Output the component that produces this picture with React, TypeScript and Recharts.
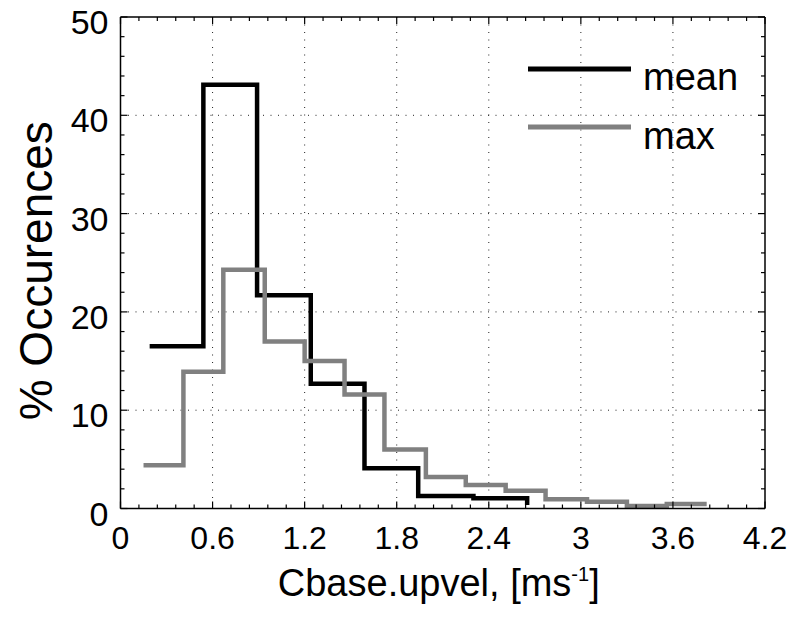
import React from "react";
import { LineChart, Line, XAxis, YAxis, CartesianGrid, Legend, Label } from "recharts";

// stairs: left edge of each bin and the % value in it
const meanEdges = [0.19, 0.54, 0.89, 1.24, 1.59, 1.94, 2.3, 2.65];
const meanPct = [16.5, 43.1, 21.7, 12.7, 4.1, 1.27, 1.04, 0.35];

const maxEdges = [0.15, 0.41, 0.67, 0.94, 1.2, 1.46, 1.72, 1.99, 2.25, 2.51, 2.77, 3.04, 3.3, 3.56, 3.82];
const maxPct = [4.4, 13.9, 24.3, 17.0, 15.0, 11.6, 6.0, 3.2, 2.4, 1.8, 0.94, 0.69, 0.25, 0.46, 0.46];

const seriesNames = ["mean", "max"];

const xTickLabels = ["0", "0.6", "1.2", "1.8", "2.4", "3", "3.6", "4.2"];
const yTickLabels = ["0", "10", "20", "30", "40", "50"];

const xMajor = xTickLabels.map(Number);
const yMajor = yTickLabels.map(Number);
const xMinor = Array.from({ length: 36 }, (_, i) => Math.round(i * 12) / 100);
const yMinor = Array.from({ length: 26 }, (_, i) => i * 2);

const meanData = meanEdges.map((x, i) => ({ x, y: meanPct[i] }));
const maxData = maxEdges.map((x, i) => ({ x, y: maxPct[i] }));

const FONT = '"Liberation Sans", Arial, Helvetica, sans-serif';

const majorIndex = (v: number, list: number[]) => list.findIndex((m) => Math.abs(m - v) < 1e-6);

// scale can be a d3 function or a wrapper with map(), depending on recharts version
const toPixel = (axis: any, v: number) => {
  const s = axis && axis.scale;
  if (typeof s === "function") return s(v);
  if (s && typeof s.map === "function") return s.map(v);
  return undefined;
};

const BottomTick = (props: any) => {
  const { x, y, payload } = props;
  const i = majorIndex(payload.value, xMajor);
  return (
    <g>
      <line x1={x} x2={x} y1={y} y2={y - (i >= 0 ? 7 : 4)} stroke="#000" strokeWidth={1.2} />
      {i >= 0 && (
        <text x={x} y={y + 29} textAnchor="middle" dominantBaseline="central" fontSize={32} fill="#000">
          {xTickLabels[i]}
        </text>
      )}
    </g>
  );
};

const TopTick = (props: any) => {
  const { x, y, payload } = props;
  const i = majorIndex(payload.value, xMajor);
  return <line x1={x} x2={x} y1={y} y2={y + (i >= 0 ? 7 : 4)} stroke="#000" strokeWidth={1.2} />;
};

const LeftTick = (props: any) => {
  const { x, y, payload } = props;
  const i = majorIndex(payload.value, yMajor);
  return (
    <g>
      <line x1={x} x2={x + (i >= 0 ? 7 : 4)} y1={y} y2={y} stroke="#000" strokeWidth={1.2} />
      {i >= 0 && (
        <text x={x - 12} y={y + 5} textAnchor="end" dominantBaseline="central" fontSize={34} fill="#000">
          {yTickLabels[i]}
        </text>
      )}
    </g>
  );
};

const RightTick = (props: any) => {
  const { x, y, payload } = props;
  const i = majorIndex(payload.value, yMajor);
  return <line x1={x} x2={x - (i >= 0 ? 7 : 4)} y1={y} y2={y} stroke="#000" strokeWidth={1.2} />;
};

const renderLegend = (props: any) => {
  const items = [...(props.payload || [])].sort(
    (a: any, b: any) => seriesNames.indexOf(a.value) - seriesNames.indexOf(b.value)
  );
  return (
    <svg width={260} height={115} style={{ fontFamily: FONT }}>
      {items.map((it: any, k: number) => (
        <g key={it.value}>
          <line x1={0} x2={103} y1={21 + k * 58} y2={21 + k * 58} stroke={it.color} strokeWidth={5} />
          <text x={115} y={42 + k * 59} fontSize={38} fill="#000">
            {it.value}
          </text>
        </g>
      ))}
    </svg>
  );
};

function StairsChart() {
  // negative margin cancels the default body margin so the svg fills the window
  return (
    <div style={{ width: 798, height: 631, margin: -8 }}>
      <LineChart
        width={798}
        height={631}
        margin={{ top: 16, right: 32, left: 0, bottom: 0 }}
        style={{ fontFamily: FONT, background: "#fff" }}
      >
        <CartesianGrid
          stroke="#222"
          strokeDasharray="1 6.5"
          verticalCoordinatesGenerator={({ xAxis }: any) =>
            xMajor
              .slice(1, -1)
              .map((v) => toPixel(xAxis, v))
              .filter((p) => p !== undefined)
          }
          horizontalCoordinatesGenerator={({ yAxis }: any) =>
            yMajor
              .slice(1, -1)
              .map((v) => toPixel(yAxis, v))
              .filter((p) => p !== undefined)
          }
        />
        <XAxis
          dataKey="x"
          type="number"
          domain={[0, 4.2]}
          ticks={xMinor}
          interval={0}
          height={122.5}
          tickSize={0}
          tickMargin={0}
          tickLine={false}
          axisLine={{ stroke: "#000", strokeWidth: 1.5 }}
          tick={BottomTick}
          allowDataOverflow
        >
          <Label
            content={(p: any) => {
              const { x, y, width } = p.viewBox;
              return (
                <text x={x + width / 2 - 4} y={y + 87} textAnchor="middle" fontSize={38} fill="#000">
                  Cbase.upvel, [ms
                  <tspan dy={-15} fontSize={20}>
                    -1
                  </tspan>
                  <tspan dy={15}>]</tspan>
                </text>
              );
            }}
          />
        </XAxis>
        <XAxis
          xAxisId="top"
          orientation="top"
          dataKey="x"
          type="number"
          domain={[0, 4.2]}
          ticks={xMinor}
          interval={0}
          height={1}
          tickSize={0}
          tickMargin={0}
          tickLine={false}
          axisLine={{ stroke: "#000", strokeWidth: 1.5 }}
          tick={TopTick}
          allowDataOverflow
        />
        <YAxis
          type="number"
          domain={[0, 50]}
          ticks={yMinor}
          interval={0}
          width={120.5}
          tickSize={0}
          tickMargin={0}
          tickLine={false}
          axisLine={{ stroke: "#000", strokeWidth: 1.5 }}
          tick={LeftTick}
          allowDataOverflow
        >
          <Label
            content={(p: any) => {
              const { x, y, height } = p.viewBox;
              const cx = x + 36;
              const cy = y + height / 2 + 8;
              return (
                <text
                  x={cx}
                  y={cy}
                  transform={`rotate(-90, ${cx}, ${cy})`}
                  textAnchor="middle"
                  dominantBaseline="central"
                  fontSize={46}
                  fill="#000"
                >
                  % Occurences
                </text>
              );
            }}
          />
        </YAxis>
        <YAxis
          yAxisId="right"
          orientation="right"
          type="number"
          domain={[0, 50]}
          ticks={yMinor}
          interval={0}
          width={1}
          tickSize={0}
          tickMargin={0}
          tickLine={false}
          axisLine={{ stroke: "#000", strokeWidth: 1.5 }}
          tick={RightTick}
          allowDataOverflow
        />
        <Legend
          layout="vertical"
          align="center"
          verticalAlign="middle"
          content={renderLegend}
          wrapperStyle={{ top: 48, left: 528, width: 260 }}
        />
        <Line
          data={meanData}
          dataKey="y"
          name="mean"
          type="stepAfter"
          stroke="#000"
          strokeWidth={4.5}
          dot={false}
          activeDot={false}
          isAnimationActive={false}
        />
        {/* top/right axes share the bottom/left domains; binding this series keeps them drawn */}
        <Line
          data={maxData}
          dataKey="y"
          name="max"
          xAxisId="top"
          yAxisId="right"
          type="stepAfter"
          stroke="#808080"
          strokeWidth={4.5}
          dot={false}
          activeDot={false}
          isAnimationActive={false}
        />
      </LineChart>
    </div>
  );
}

export default StairsChart;
